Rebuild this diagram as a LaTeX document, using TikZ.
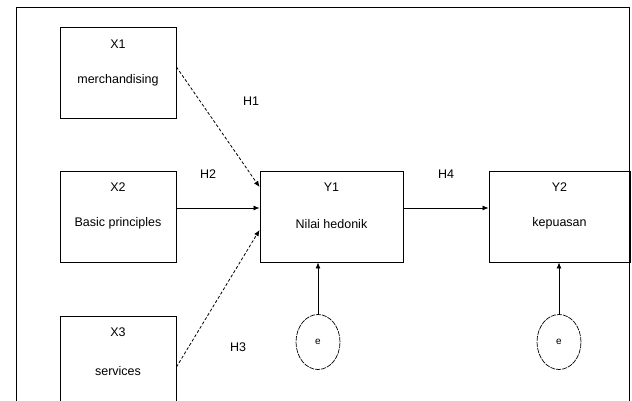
\documentclass[tikz,border=0pt]{standalone}
\usepackage{fontspec}
\setmainfont{Liberation Sans}
\usetikzlibrary{arrows.meta,shapes.geometric}
\begin{document}
\begin{tikzpicture}[x=1pt,y=-1pt,
  box/.style={draw,line width=0.9pt,minimum height=91pt,inner sep=0pt},
  txt/.style={font=\fontsize{12.5}{14}\selectfont,inner sep=0pt},
  hyp/.style={font=\fontsize{12.5}{14}\selectfont,inner sep=0pt},
  arr/.style={line width=0.8pt,-{Latex[length=6pt,width=5pt]}},
  dsh/.style={dash pattern=on 3pt off 2pt},
  err/.style={draw,ellipse,line width=0.7pt,dash pattern=on 5pt off 1pt,minimum width=44pt,minimum height=55pt,inner sep=0pt,font=\fontsize{10}{12}\selectfont}]
\useasboundingbox (0,0) rectangle (632,400);
\fill[white] (0,0) rectangle (632,400);
\begin{scope}
\clip (0,0) rectangle (632,400);
\draw[line width=0.9pt] (16,7) -- (629.5,7) -- (629.5,410);
\draw[line width=0.9pt] (16,7) -- (16,410);
\node[box,minimum width=116pt] (X1) at (118,72.5) {};
\node[box,minimum width=116pt] (X2) at (118,216.5) {};
\node[box,minimum width=116pt] (X3) at (118,361.5) {};
\node[box,minimum width=143pt] (Y1) at (331.5,216.5) {};
\node[box,minimum width=141pt] (Y2) at (559.5,216.5) {};
\end{scope}
% box texts
\node[txt] (X1a) at ([yshift=-18pt]X1.north) {X1};
\node[txt] (X1b) at ([yshift=-54pt]X1.north) {merchandising};
\node[txt] (X2a) at ([yshift=-17pt]X2.north) {X2};
\node[txt] (X2b) at ([yshift=-53pt]X2.north) {Basic principles};
\node[txt] (X3a) at ([yshift=-17pt]X3.north) {X3};
\node[txt] (X3b) at ([yshift=-55pt]X3.north) {services};
\node[txt] (Y1a) at ([yshift=-17pt]Y1.north) {Y1};
\node[txt] (Y1b) at ([yshift=-53pt]Y1.north) {Nilai hedonik};
\node[txt] (Y2a) at ([yshift=-17pt]Y2.north) {Y2};
\node[txt] (Y2b) at ([yshift=-53pt]Y2.north) {kepuasan};
% hypothesis labels
\node[hyp] (H1) at (251,101) {H1};
\node[hyp] (H2) at (208,174) {H2};
\node[hyp] (H3) at (238,347) {H3};
\node[hyp] (H4) at (446,174) {H4};
% error terms
\node[err] (e1) at (318,342) {e};
\node[err] (e2) at (559,342) {e};
% connectors
\draw[arr,dsh] ([yshift=5.5pt]X1.east) -- ([yshift=29.5pt]Y1.west);
\draw[arr] ([yshift=8.5pt]X2.east) -- ([yshift=8.5pt]Y1.west);
\draw[arr,dsh] ([yshift=-5.5pt]X3.east) -- ([yshift=-13.5pt]Y1.west);
\draw[arr] ([yshift=8.5pt]Y1.east) -- ([yshift=8.5pt]Y2.west);
\draw[arr] (e1.north) -- (e1.north |- Y1.south);
\draw[arr] (e2.north) -- (e2.north |- Y2.south);
\end{tikzpicture}
\end{document}
